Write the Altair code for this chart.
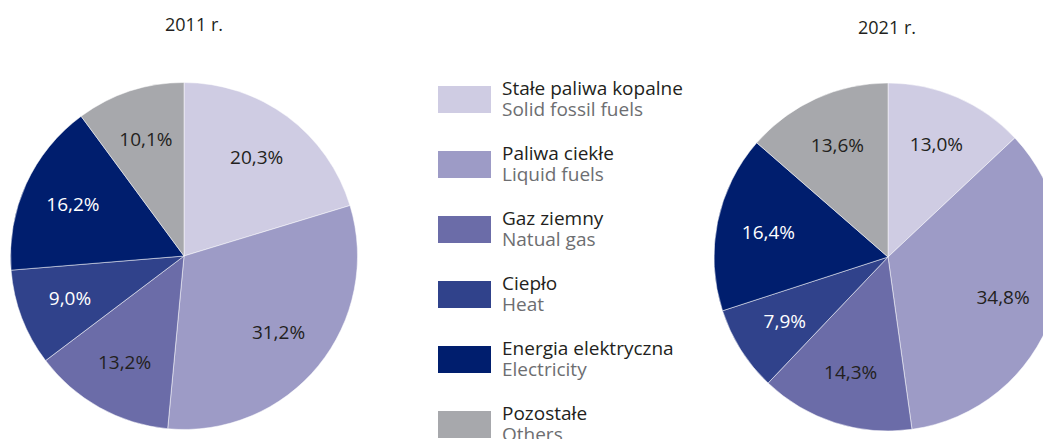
import altair as alt
import pandas as pd

# ---- data ----
categories_pl = ["Stałe paliwa kopalne", "Paliwa ciekłe", "Gaz ziemny", "Ciepło",
                 "Energia elektryczna", "Pozostałe"]
categories_en = ["Solid fossil fuels", "Liquid fuels", "Natual gas", "Heat",
                 "Electricity", "Others"]
values_2011 = [20.3, 31.2, 13.2, 9.0, 16.2, 10.1]
values_2021 = [13.0, 34.8, 14.3, 7.9, 16.4, 13.6]
years = ["2011 r.", "2021 r."]
colors = ["#cfcce3", "#9d9bc6", "#6b6ca8", "#30428b", "#001e6e", "#a7a8ac"]

rows = []
for yr, vals in zip(years, [values_2011, values_2021]):
    for i, (c, v) in enumerate(zip(categories_pl, vals)):
        rows.append({"year": yr, "cat": c, "value": v, "order": i})
df = pd.DataFrame(rows)

leg = pd.DataFrame({"cat": categories_pl, "en": categories_en,
                    "idx": list(range(len(categories_pl)))})

FONT = "Open Sans"
DARK = "#231f20"
color_scale = alt.Scale(domain=categories_pl, range=colors)

base = alt.Chart(df).transform_calculate(
    label="replace(format(datum.value, '.1f'), '.', ',') + '%'"
)


def pie(year, cx, cy, r):
    b = base.transform_filter(alt.datum.year == year)
    arc = b.mark_arc(outerRadius=r, stroke="white", strokeWidth=0.5).encode(
        x=alt.value(cx), y=alt.value(cy),
        theta=alt.Theta("value:Q", stack=True),
        order=alt.Order("order:Q"),
        color=alt.Color("cat:N", scale=color_scale, legend=None),
    )
    txt = b.mark_text(radius=122, fontSize=19, font=FONT, align="center",
                      baseline="middle").encode(
        x=alt.value(cx), y=alt.value(cy),
        theta=alt.Theta("value:Q", stack=True),
        order=alt.Order("order:Q"),
        text="label:N",
        color=alt.condition(
            alt.FieldOneOfPredicate(field="cat", oneOf=["Ciepło", "Energia elektryczna"]),
            alt.value("white"), alt.value(DARK)),
    )
    return arc + txt


left = pie(years[0], 176, 248, 173.5)
right = pie(years[1], 880, 249, 174)

titles_df = pd.DataFrame({"t": years})
t1 = alt.Chart(titles_df).transform_filter(alt.datum.t == years[0]).mark_text(
    fontSize=18, font=FONT, color=DARK, align="center", baseline="alphabetic"
).encode(x=alt.value(186), y=alt.value(22.7), text="t:N")
t2 = alt.Chart(titles_df).transform_filter(alt.datum.t == years[1]).mark_text(
    fontSize=18, font=FONT, color=DARK, align="center", baseline="alphabetic"
).encode(x=alt.value(879), y=alt.value(26.3), text="t:N")

yscale = alt.Scale(domain=[0, 5], range=[91.5, 416.5])
lb = alt.Chart(leg)
swatch = lb.mark_point(
    shape="M-1,-0.509L1,-0.509L1,0.509L-1,0.509Z", size=53 * 53,
    filled=True, opacity=1, strokeWidth=0
).encode(
    x=alt.value(456.5),
    y=alt.Y("idx:Q", scale=yscale, axis=None),
    color=alt.Color("cat:N", scale=color_scale, legend=None),
)
line1 = lb.mark_text(fontSize=19, font=FONT, color=DARK, align="left",
                     baseline="alphabetic", dy=-4.5).encode(
    x=alt.value(494), y=alt.Y("idx:Q", scale=yscale, axis=None), text="cat:N")
line2 = lb.mark_text(fontSize=19, font=FONT, color="#6d6e71", align="left",
                     baseline="alphabetic", dy=16).encode(
    x=alt.value(494), y=alt.Y("idx:Q", scale=yscale, axis=None), text="en:N")

chart = alt.layer(left, right, t1, t2, swatch, line1, line2).properties(
    width=1035, height=431, padding=0, autosize="none"
).configure_view(stroke=None)

chart.save("out.html", embed_options={"renderer": "svg", "actions": False})
